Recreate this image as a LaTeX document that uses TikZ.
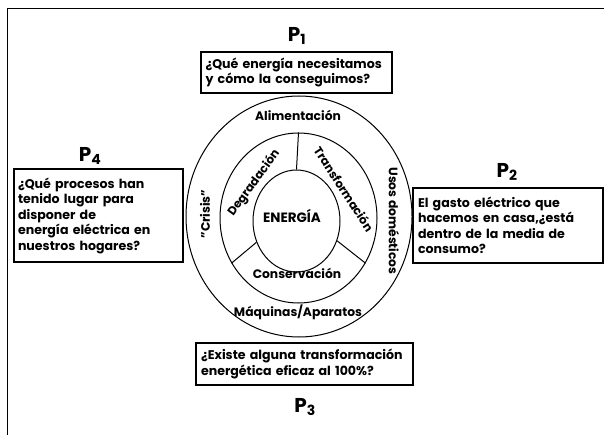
\documentclass[tikz,border=0pt]{standalone}
\usepackage{fontspec}
\setmainfont{Poppins}
\usetikzlibrary{shapes.geometric}
\tikzset{
  qbox/.style={draw, line width=1.6pt, inner sep=0pt, align=left, font=\bfseries\fontsize{12.6}{15.5}\selectfont},
  plabel/.style={font=\bfseries\fontsize{20}{22}\selectfont, inner sep=0pt},
  ring/.style={draw, ellipse, line width=1pt, inner sep=0pt},
  ringtext/.style={font=\bfseries\fontsize{12.3}{13}\selectfont, inner sep=0pt},
  spoke/.style={line width=1pt},
  frame/.style={line width=0.8pt}
}
\begin{document}
\begin{tikzpicture}[x=1pt,y=-1pt]
\useasboundingbox (0,0) rectangle (604,435);
\coordinate (fa) at (7,435);
\coordinate (fb) at (7,8);
\coordinate (fc) at (604,8);
\draw[frame] (fa) -- (fb) -- (fc);

\node[ring, minimum width=226pt, minimum height=241pt] (outer) at (299,216.5) {};
\node[ring, minimum width=157pt, minimum height=170pt] (mid) at (298.5,218) {};
\node[ring, minimum width=87pt, minimum height=102pt] (inner) at (296.5,221) {};
\draw[spoke] (inner.90) -- (mid.90);
\draw[spoke] (inner.208) -- (mid.214);
\draw[spoke] (inner.334) -- (mid.326);

\node[ringtext] (ali) at (298,115) {Alimentación};
\node[ringtext] (maq) at (298,312) {Máquinas/Aparatos};
\node[ringtext, rotate=-90] (usos) at (394,221) {Usos domésticos};
\node[ringtext, rotate=90] (cri) at (205,214) {"Crisis"};
\node[ringtext, font=\bfseries\fontsize{11.8}{13}\selectfont, rotate=54] (deg) at (254,183) {Degradación};
\node[ringtext, font=\bfseries\fontsize{11.8}{13}\selectfont, rotate=-57] (tra) at (344,189) {Transformación};
\node[ringtext] (con) at (297,273) {Conservación};
\node[ringtext, font=\bfseries\fontsize{13.5}{14}\selectfont] (ene) at (292,216) {ENERGÍA};

\node[plabel] (p1) at (297,36) {P\textsubscript{1}};
\node[qbox, minimum width=191pt, minimum height=41pt, text width=182pt] (b1) at (296.5,72.5) {¿Qué energía necesitamos\\y cómo la conseguimos?};

\node[plabel] (p4) at (90,156) {P\textsubscript{4}};
\node[qbox, minimum width=169pt, minimum height=93pt, text width=161pt] (b4) at (98.5,215.5) {¿Qué procesos han\\tenido lugar para\\disponer de\\energía eléctrica en\\nuestros hogares?};

\node[plabel] (p2) at (507,172) {P\textsubscript{2}};
\node[qbox, minimum width=190pt, minimum height=75pt, text width=180pt] (b2) at (508,225.5) {El gasto eléctrico que\\hacemos en casa,¿está\\dentro de la media de\\consumo?};

\node[qbox, minimum width=217pt, minimum height=42pt, text width=207pt] (b3) at (304.5,364) {¿Existe alguna transformación\\energética eficaz al 100\%?};
\node[plabel] (p3) at (305,407) {P\textsubscript{3}};
\end{tikzpicture}
\end{document}
